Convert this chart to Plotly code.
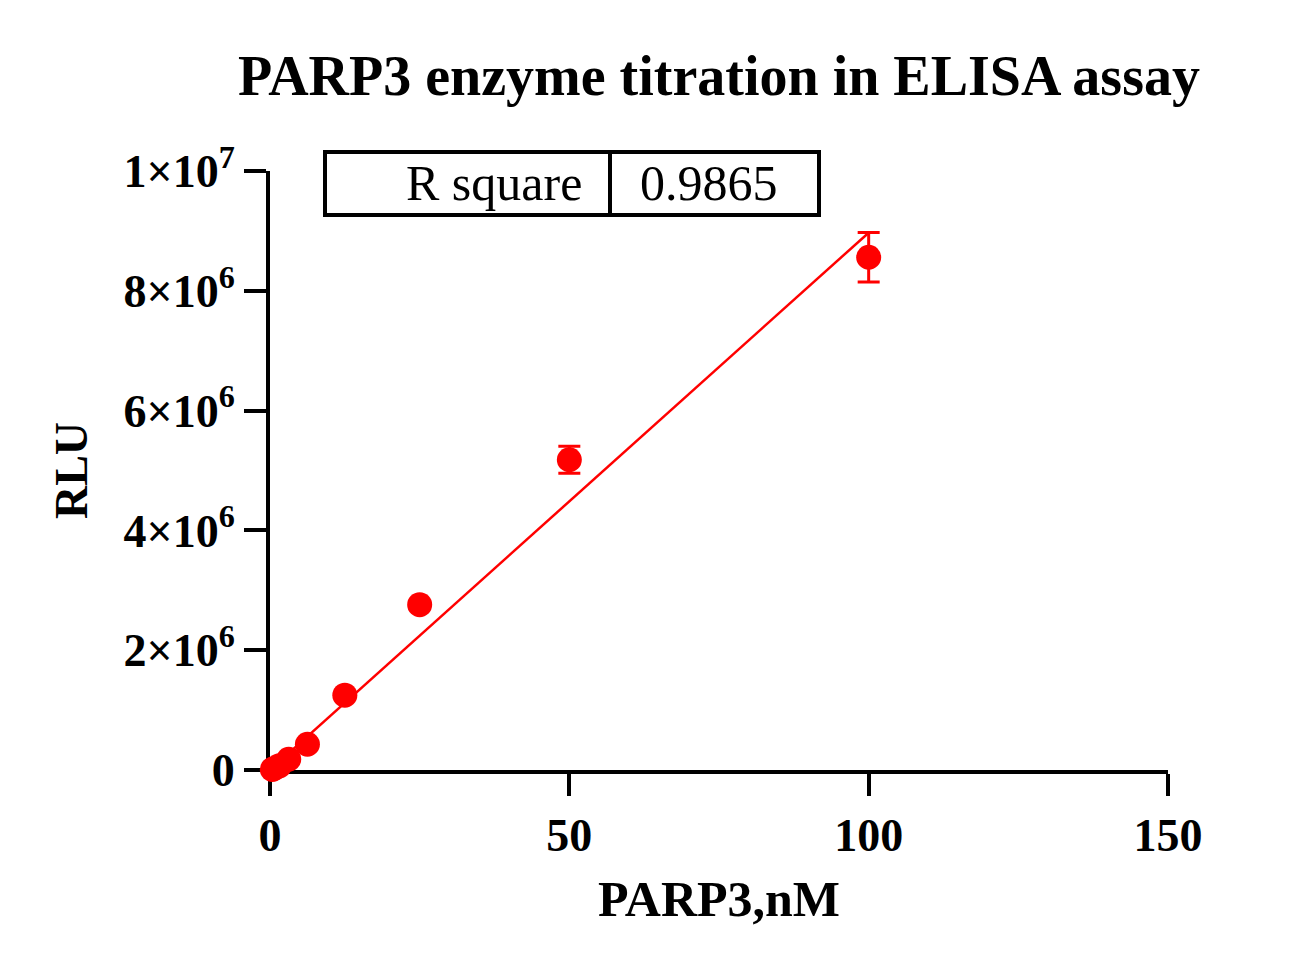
import plotly.graph_objects as go

# Data
conc_nM = [0.39, 0.78, 1.5625, 3.125, 6.25, 12.5, 25, 50, 100]
rlu_mean = [0.01e6, 0.03e6, 0.07e6, 0.18e6, 0.43e6, 1.25e6, 2.76e6, 5.18e6, 8.56e6]
rlu_err = [0, 0, 0, 0, 0, 0, 0, 0.225e6, 0.415e6]
fit_x = [0, 100]
fit_y = [0.0, 8.97e6]
r_square = "0.9865"

y_tickvals = [0, 2e6, 4e6, 6e6, 8e6, 1e7]
y_ticktext = ["0", "2×10<sup>6</sup>", "4×10<sup>6</sup>", "6×10<sup>6</sup>",
              "8×10<sup>6</sup>", "1×10<sup>7</sup>"]
x_tickvals = [0, 50, 100, 150]

RED = "#ff0000"
FONT = "Liberation Serif"

fig = go.Figure()
fig.add_trace(go.Scatter(
    x=fit_x, y=fit_y, mode="lines",
    line=dict(color=RED, width=2.5), cliponaxis=False, showlegend=False,
))
fig.add_trace(go.Scatter(
    x=conc_nM, y=rlu_mean, mode="markers",
    marker=dict(color=RED, size=25),
    error_y=dict(type="data", array=rlu_err, color=RED, thickness=3, width=11),
    cliponaxis=False, showlegend=False,
))

# page body has an 8px margin, so offsets are reduced by 8
W, H = 1307, 969
L, T = 262, 163
PW, PH = 898, 599
R = W - L - PW
B = H - T - PH

axis_common = dict(
    showline=True, linecolor="black", linewidth=4,
    ticks="outside", ticklen=22, tickwidth=4, tickcolor="black",
    showgrid=False, zeroline=False, layer="below traces",
    tickfont=dict(family=FONT, size=46, color="black"),
)

fig.update_layout(
    width=W, height=H,
    margin=dict(l=L, r=R, t=T, b=B),
    plot_bgcolor="white", paper_bgcolor="white",
    title=dict(
        text="<b>PARP3 enzyme titration in ELISA assay</b>",
        x=0.5, xref="paper", xanchor="center",
        y=1 - 67 / H, yref="container", yanchor="middle",
        font=dict(family=FONT, size=56, color="black"),
    ),
    xaxis=dict(
        range=[0, 150], tickvals=x_tickvals,
        ticktext=[f"<b>{v}</b>" for v in x_tickvals],
        title=dict(text="<b>PARP3,nM</b>", standoff=22,
                   font=dict(family=FONT, size=50, color="black")),
        **axis_common,
    ),
    yaxis=dict(
        range=[0, 1e7], tickvals=y_tickvals,
        ticktext=[f"<b>{t}</b>" for t in y_ticktext],
        title=dict(text="<b>RLU</b>", standoff=22,
                   font=dict(family=FONT, size=46, color="black")),
        **axis_common,
    ),
)

# R square table (positions in window pixels, converted to paper coords)
def px(xp):
    return (xp - 8 - L) / PW
def py(yp):
    return (T + 8 + PH - yp) / PH

bx0, bx1, bdiv = px(325), px(819), px(610)
by0, by1 = py(215), py(152)
fig.add_shape(type="rect", xref="paper", yref="paper",
              x0=bx0, x1=bx1, y0=by0, y1=by1,
              line=dict(color="black", width=4), fillcolor="white")
fig.add_shape(type="line", xref="paper", yref="paper",
              x0=bdiv, x1=bdiv, y0=by0, y1=by1,
              line=dict(color="black", width=4))
fig.add_annotation(xref="paper", yref="paper", x=px(584), y=(by0 + by1) / 2,
                   xanchor="right", yanchor="middle", text="R square",
                   showarrow=False, font=dict(family=FONT, size=50, color="black"))
fig.add_annotation(xref="paper", yref="paper", x=px(638), y=(by0 + by1) / 2,
                   xanchor="left", yanchor="middle", text=r_square,
                   showarrow=False, font=dict(family=FONT, size=50, color="black"))

fig.write_html("out.html")
